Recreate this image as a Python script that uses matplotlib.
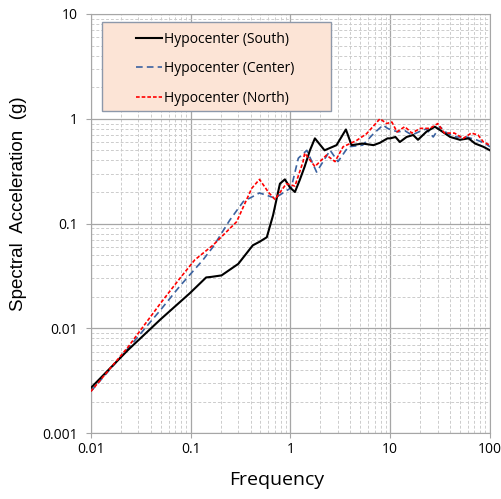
import numpy as np
import matplotlib
matplotlib.use('Agg')
from matplotlib import pyplot as plt
from matplotlib.patches import Rectangle

# --- data (frequency, spectral acceleration in g) ---
f_south = [0.01, 0.0235, 0.05, 0.098, 0.143, 0.162, 0.204, 0.30, 0.42, 0.49, 0.58,
           0.67, 0.785, 0.88, 0.99, 1.11, 1.24, 1.39, 1.57, 1.76, 2.2, 2.9, 3.6, 4.1, 5.3,
           6.8, 7.9, 9.4, 10, 11.3, 12.5, 14.6, 17, 19, 23, 28, 31.6, 40, 50, 61, 71, 86, 100]
sa_south = [0.0027, 0.0062, 0.0122, 0.0216, 0.0306, 0.031, 0.032, 0.0412, 0.062, 0.067, 0.074,
            0.12, 0.24, 0.264, 0.221, 0.20, 0.26, 0.35, 0.50, 0.65, 0.50, 0.56, 0.79, 0.56, 0.58,
            0.56, 0.59, 0.65, 0.65, 0.67, 0.60, 0.67, 0.70, 0.63, 0.75, 0.84, 0.78, 0.67, 0.63, 0.65, 0.58, 0.54, 0.50]

f_center = [0.01, 0.0235, 0.05, 0.078, 0.133, 0.168, 0.247, 0.337, 0.49, 0.70, 1.02,
            1.2, 1.46, 1.83, 2.5, 3.0, 3.8, 5.3, 6.8, 8.5, 9.4, 10.4, 12, 14, 16.5, 20, 23,
            27, 31.6, 37, 46, 58, 73, 90, 100]
sa_center = [0.0025, 0.0064, 0.015, 0.0253, 0.045, 0.06, 0.108, 0.162, 0.196, 0.175, 0.22,
             0.42, 0.50, 0.31, 0.50, 0.39, 0.54, 0.56, 0.72, 0.87, 0.81, 0.78, 0.75, 0.77, 0.70, 0.76, 0.80,
             0.67, 0.84, 0.73, 0.67, 0.67, 0.63, 0.58, 0.54]

f_north = [0.01, 0.0235, 0.05, 0.078, 0.11, 0.168, 0.289, 0.35, 0.41, 0.49, 0.60, 0.70,
           0.91, 1.11, 1.34, 1.39, 1.76, 2.3, 2.8, 3.37, 4.6, 5.8, 7.9, 9.2, 10.4, 11.7, 14,
           16.5, 20, 25, 30, 35, 44, 54, 65, 76, 86, 100]
sa_north = [0.0025, 0.0066, 0.0174, 0.030, 0.045, 0.0623, 0.104, 0.156, 0.217, 0.264, 0.20, 0.170,
            0.24, 0.228, 0.39, 0.47, 0.35, 0.45, 0.39, 0.54, 0.62, 0.72, 1.0, 0.90, 0.93, 0.75, 0.84,
            0.73, 0.81, 0.81, 0.90, 0.73, 0.73, 0.65, 0.73, 0.70, 0.60, 0.56]

labels = ['Hypocenter (South)', 'Hypocenter (Center)', 'Hypocenter (North)']
x_ticks = [0.01, 0.1, 1, 10, 100]
x_ticklabels = ['0.01', '0.1', '1', '10', '100']
y_ticks = [0.001, 0.01, 0.1, 1, 10]
y_ticklabels = ['0.001', '0.01', '0.1', '1', '10']

fig = plt.figure(figsize=(5.02, 4.99), dpi=100)
ax = fig.add_axes([0.181, 0.132, 0.795, 0.840])

ax.plot(f_south, sa_south, c='black', lw=1.5, label=labels[0], zorder=4)
ax.plot(f_center, sa_center, c='#3b62a0', lw=1.2, ls=(0, (4, 2.5)), label=labels[1], zorder=3)
ax.plot(f_north, sa_north, c='#ff0000', lw=1.2, ls=(0, (2.2, 1.2)), label=labels[2], zorder=5)

ax.set_xscale('log')
ax.set_yscale('log')
ax.set_xlim(0.01, 100)
ax.set_ylim(0.001, 10)

ax.set_axisbelow(True)
ax.grid(which='major', c='#a6a6a6', lw=0.9, ls='-')
ax.grid(which='minor', c='#cccccc', lw=0.7, ls=(0, (3, 2)))

ax.set_xticks(x_ticks)
ax.set_xticklabels(x_ticklabels)
ax.set_yticks(y_ticks)
ax.set_yticklabels(y_ticklabels)
ax.tick_params(which='major', length=3.6, color='#a6a6a6', labelsize=10)
ax.tick_params(axis='y', pad=6)
ax.tick_params(axis='x', pad=3)
ax.tick_params(which='minor', length=0)
for t in ax.get_xticklabels() + ax.get_yticklabels():
    t.set_family('Open Sans')
for sp in ax.spines.values():
    sp.set_color('#a6a6a6')

ax.set_xlabel('Frequency', family='Open Sans', fontsize=14)
ax.xaxis.set_label_coords(0.466, -0.09)
ax.set_ylabel('Spectral  Acceleration  (g)', family='Liberation Sans', fontsize=13.5)
ax.yaxis.set_label_coords(-0.16, 0.547)

# legend box
ax.add_patch(Rectangle((0.028, 0.7685), 0.574, 0.2125, transform=ax.transAxes,
                       facecolor='#fce4d6', edgecolor='#8d98aa', lw=1.0, zorder=6))
leg = ax.legend(loc='upper left', bbox_to_anchor=(0.1025, 0.968), frameon=False,
                prop={'family': 'Open Sans', 'size': 10}, handlelength=1.9,
                handletextpad=0.15, labelspacing=1.05, borderaxespad=0, borderpad=0.3)
leg.set_zorder(7)

fig.savefig('out.png', dpi=100)
